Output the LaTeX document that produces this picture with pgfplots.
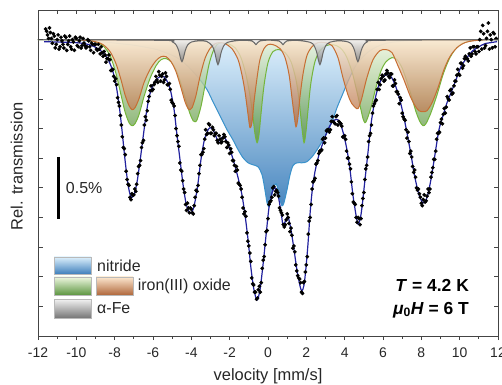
\documentclass[border=0pt]{standalone}
\usepackage{pgfplots}
\pgfplotsset{compat=1.18}
\usepackage{fontspec}
\setmainfont{Liberation Sans}
\usetikzlibrary{shadings}
\definecolor{nitL}{HTML}{DDF0FC}
\definecolor{nitD}{HTML}{3F80BC}
\definecolor{nitE}{HTML}{3A92CB}
\definecolor{orL}{HTML}{FCE7CF}
\definecolor{orD}{HTML}{B0673B}
\definecolor{orE}{HTML}{C66E33}
\definecolor{grL}{HTML}{EDF7DF}
\definecolor{grD}{HTML}{5C9540}
\definecolor{grE}{HTML}{74B53B}
\definecolor{gyL}{HTML}{F2F2F2}
\definecolor{gyD}{HTML}{767676}
\definecolor{gyE}{HTML}{686868}
\definecolor{fitc}{HTML}{22229E}
\definecolor{axc}{HTML}{444444}
\begin{document}
\begin{tikzpicture}
\begin{axis}[
  scale only axis, width=460bp, height=326bp,
  xmin=-12, xmax=12, ymin=-2.5, ymax=0.25,
  axis line style={draw=axc, line width=0.9bp},
  xtick={-12,-10,-8,-6,-4,-2,0,2,4,6,8,10,12},
  xticklabels={-12,-10,-8,-6,-4,-2,0,2,4,6,8,10,12},
  minor xtick={-11,-9,-7,-5,-3,-1,1,3,5,7,9,11},
  xtick pos=bottom, tick align=outside,
  major tick length=4bp, minor tick length=2.5bp,
  ytick=\empty,
  tick style={axc, line width=0.8bp},
  ticklabel style={font=\fontsize{14}{16}\selectfont, text=black!85},
  xticklabel style={yshift=-4bp},
  xlabel={velocity [mm/s]}, ylabel={Rel. transmission},
  xlabel style={yshift=-4bp, font=\fontsize{16.5}{19}\selectfont, text=black!85},
  ylabel style={at={(axis description cs:-0.046,0.52)}, anchor=center, font=\fontsize{16.5}{19}\selectfont, text=black!85},
  clip=true,
]
% nitride
\addplot[draw=nitE, line width=1bp, top color=nitL, bottom color=nitD, fill opacity=0.95, smooth] table {
-12 0
-10.33 -0.004
-8.76 -0.017
-7.72 -0.034
-7.04 -0.046
-6.42 -0.063
-5.79 -0.084
-5.27 -0.114
-4.75 -0.152
-4.33 -0.203
-3.91 -0.270
-3.55 -0.338
-3.18 -0.422
-2.92 -0.507
-2.66 -0.591
-2.40 -0.676
-2.14 -0.760
-1.83 -0.845
-1.56 -0.929
-1.30 -0.997
-1.04 -1.039
-0.78 -1.056
-0.52 -1.073
-0.31 -1.140
-0.16 -1.267
-0.05 -1.377
0.05 -1.410
0.16 -1.351
0.26 -1.258
0.42 -1.216
0.52 -1.267
0.63 -1.351
0.73 -1.402
0.83 -1.377
0.99 -1.267
1.15 -1.140
1.30 -1.064
1.51 -1.039
1.77 -1.039
2.03 -1.030
2.30 -0.988
2.56 -0.929
2.82 -0.861
3.08 -0.785
3.34 -0.693
3.60 -0.574
3.86 -0.473
4.12 -0.372
4.38 -0.279
4.64 -0.203
4.96 -0.144
5.32 -0.093
5.69 -0.059
6.10 -0.034
6.52 -0.021
7.41 -0.008
8.97 -0.004
12 0
} \closedcycle;
% green oxide
\addplot[draw=grE, line width=1bp, top color=grL, bottom color=grD, fill opacity=0.8, smooth] table {
-12 0
-9.81 -0.004
-9.02 -0.017
-8.61 -0.051
-8.24 -0.135
-7.93 -0.287
-7.67 -0.465
-7.46 -0.608
-7.25 -0.701
-7.09 -0.726
-6.94 -0.709
-6.73 -0.633
-6.47 -0.481
-6.16 -0.329
-5.84 -0.220
-5.58 -0.169
-5.32 -0.160
-5.06 -0.186
-4.80 -0.253
-4.54 -0.372
-4.28 -0.515
-4.07 -0.625
-3.91 -0.684
-3.81 -0.693
-3.70 -0.676
-3.50 -0.566
-3.29 -0.389
-3.08 -0.211
-2.87 -0.101
-2.66 -0.042
-2.40 -0.025
-2.09 -0.034
-1.72 -0.068
-1.41 -0.152
-1.15 -0.296
-0.94 -0.473
-0.78 -0.659
-0.68 -0.794
-0.57 -0.870
-0.47 -0.802
-0.37 -0.633
-0.21 -0.389
0.00 -0.194
0.26 -0.101
0.57 -0.084
0.89 -0.110
1.20 -0.186
1.46 -0.338
1.62 -0.507
1.77 -0.743
1.88 -0.870
1.98 -0.777
2.09 -0.591
2.24 -0.363
2.45 -0.186
2.71 -0.093
3.03 -0.051
3.39 -0.042
3.76 -0.068
4.07 -0.135
4.38 -0.270
4.64 -0.439
4.85 -0.591
4.96 -0.667
5.06 -0.701
5.16 -0.676
5.37 -0.574
5.63 -0.405
5.90 -0.262
6.16 -0.186
6.47 -0.152
6.73 -0.169
6.99 -0.236
7.25 -0.355
7.51 -0.490
7.72 -0.608
7.93 -0.693
8.09 -0.726
8.24 -0.709
8.50 -0.617
8.82 -0.465
9.13 -0.296
9.44 -0.169
9.76 -0.084
10.12 -0.034
10.64 -0.008
11.32 0
12 0
} \closedcycle;
% orange oxide
\addplot[draw=orE, line width=1bp, top color=orL, bottom color=orD, fill opacity=0.8, smooth] table {
-12 0
-9.81 -0.004
-9.02 -0.017
-8.61 -0.042
-8.24 -0.101
-7.93 -0.203
-7.67 -0.338
-7.46 -0.465
-7.25 -0.557
-7.09 -0.591
-6.94 -0.574
-6.73 -0.498
-6.47 -0.363
-6.16 -0.253
-5.84 -0.177
-5.58 -0.144
-5.32 -0.144
-5.06 -0.186
-4.80 -0.270
-4.54 -0.405
-4.33 -0.524
-4.17 -0.583
-4.07 -0.591
-3.96 -0.574
-3.76 -0.473
-3.55 -0.313
-3.29 -0.160
-3.03 -0.076
-2.76 -0.034
-2.50 -0.025
-2.24 -0.034
-1.88 -0.076
-1.56 -0.169
-1.36 -0.296
-1.20 -0.439
-1.04 -0.633
-0.94 -0.743
-0.83 -0.693
-0.73 -0.524
-0.57 -0.321
-0.42 -0.169
-0.21 -0.076
0.00 -0.042
0.26 -0.042
0.63 -0.076
0.89 -0.152
1.10 -0.296
1.25 -0.490
1.36 -0.633
1.46 -0.735
1.56 -0.659
1.67 -0.481
1.83 -0.287
2.03 -0.135
2.30 -0.059
2.61 -0.025
2.97 -0.025
3.34 -0.051
3.65 -0.152
3.91 -0.321
4.17 -0.465
4.38 -0.541
4.64 -0.583
4.75 -0.566
4.90 -0.490
5.16 -0.321
5.48 -0.169
5.84 -0.093
6.16 -0.084
6.47 -0.110
6.78 -0.220
7.09 -0.338
7.41 -0.473
7.67 -0.557
7.88 -0.600
8.09 -0.608
8.29 -0.600
8.56 -0.532
8.87 -0.405
9.18 -0.253
9.49 -0.144
9.86 -0.068
10.28 -0.025
10.80 -0.008
11.58 0
12 0
} \closedcycle;
% alpha-Fe
\addplot[draw=gyE, line width=1bp, top color=gyL, bottom color=gyD, fill opacity=0.85, smooth] table {
-12 0
-5.5 -0.006
-5.0 -0.018
-4.79 -0.045
-4.66 -0.093
-4.57 -0.153
-4.49 -0.186
-4.41 -0.153
-4.32 -0.093
-4.19 -0.045
-3.99 -0.020
-3.6 -0.010
-3.2 -0.015
-2.91 -0.052
-2.78 -0.106
-2.69 -0.173
-2.61 -0.211
-2.53 -0.173
-2.44 -0.106
-2.31 -0.052
-2.11 -0.023
-1.6 -0.008
-1.13 -0.006
-0.83 -0.012
-0.72 -0.025
-0.63 -0.042
-0.54 -0.025
-0.43 -0.012
0.0 -0.004
0.58 -0.012
0.69 -0.025
0.78 -0.042
0.87 -0.025
0.98 -0.012
1.5 -0.006
2.21 -0.023
2.41 -0.052
2.54 -0.106
2.63 -0.173
2.71 -0.211
2.79 -0.173
2.88 -0.106
3.01 -0.052
3.21 -0.023
3.7 -0.010
4.19 -0.020
4.39 -0.045
4.52 -0.093
4.61 -0.153
4.69 -0.186
4.77 -0.153
4.86 -0.093
4.99 -0.045
5.19 -0.018
5.7 -0.006
12 0
} \closedcycle;
% fit
\addplot[fitc, line width=1.2bp, smooth] table {
-11.68 -0.017
-10.85 -0.021
-10.07 -0.025
-9.55 -0.034
-9.18 -0.051
-8.87 -0.076
-8.61 -0.110
-8.40 -0.152
-8.24 -0.203
-8.09 -0.270
-7.93 -0.380
-7.77 -0.549
-7.62 -0.760
-7.46 -1.014
-7.30 -1.225
-7.15 -1.326
-6.99 -1.309
-6.83 -1.199
-6.68 -1.030
-6.52 -0.828
-6.36 -0.633
-6.21 -0.490
-6.05 -0.405
-5.84 -0.338
-5.63 -0.313
-5.43 -0.313
-5.22 -0.363
-5.06 -0.448
-4.90 -0.591
-4.75 -0.802
-4.59 -1.014
-4.43 -1.225
-4.28 -1.377
-4.12 -1.453
-3.96 -1.453
-3.81 -1.368
-3.65 -1.208
-3.50 -1.014
-3.34 -0.861
-3.18 -0.777
-3.03 -0.743
-2.87 -0.760
-2.71 -0.819
-2.61 -0.861
-2.50 -0.845
-2.35 -0.819
-2.19 -0.845
-1.98 -0.929
-1.77 -1.039
-1.56 -1.166
-1.36 -1.309
-1.20 -1.478
-1.04 -1.689
-0.89 -1.926
-0.73 -2.112
-0.57 -2.196
-0.42 -2.112
-0.26 -1.900
-0.10 -1.647
0.05 -1.419
0.21 -1.292
0.37 -1.250
0.52 -1.309
0.68 -1.453
0.78 -1.563
0.89 -1.537
1.04 -1.495
1.20 -1.605
1.36 -1.774
1.51 -1.943
1.67 -2.078
1.77 -2.120
1.88 -2.069
1.98 -1.926
2.09 -1.715
2.19 -1.478
2.30 -1.284
2.45 -1.115
2.66 -0.971
2.87 -0.870
3.08 -0.777
3.29 -0.709
3.50 -0.676
3.70 -0.684
3.91 -0.777
4.12 -0.929
4.28 -1.098
4.43 -1.309
4.59 -1.478
4.69 -1.554
4.80 -1.520
4.90 -1.419
5.06 -1.182
5.22 -0.946
5.37 -0.718
5.58 -0.507
5.79 -0.380
6.00 -0.313
6.21 -0.296
6.42 -0.313
6.63 -0.380
6.83 -0.481
7.04 -0.617
7.25 -0.785
7.46 -0.971
7.67 -1.166
7.88 -1.309
8.09 -1.377
8.29 -1.334
8.50 -1.182
8.71 -0.971
8.92 -0.760
9.13 -0.642
9.34 -0.532
9.55 -0.448
9.81 -0.338
10.07 -0.228
10.38 -0.152
10.69 -0.093
11.01 -0.059
11.32 -0.034
11.63 -0.025
11.95 -0.017
};
% measured data
\addplot[only marks, mark=*, mark size=1.7bp, black] table {
-11.6 0.09
-11.55 0.07
-11.5 0.04
-11.45 0.01
-11.4 0.10
-11.35 0.06
-11.3 0.01
-11.25 -0.03
-11.2 0.05
-11.15 0.03
-11.1 -0.07
-11.05 -0.04
-11.0 0.00
-10.95 0.04
-10.9 -0.08
-10.85 -0.06
-10.8 0.02
-10.75 -0.01
-10.7 -0.04
-10.65 -0.07
-10.6 0.03
-10.55 0.02
-10.5 -0.09
-10.45 -0.04
-10.4 -0.01
-10.35 0.03
-10.3 -0.06
-10.25 -0.08
-10.2 0.00
-10.15 -0.02
-10.1 -0.09
-10.05 0.02
-10.0 0.01
-9.95 -0.05
-9.9 -0.06
-9.85 -0.01
-9.8 0.02
-9.75 -0.07
-9.7 -0.05
-9.65 0.01
-9.6 -0.03
-9.55 -0.05
-9.5 -0.07
-9.45 -0.06
-9.4 0.00
-9.35 -0.01
-9.3 -0.06
-9.25 -0.09
-9.2 -0.03
-9.15 -0.04
-9.1 -0.11
-9.05 -0.04
-9.0 -0.04
-8.95 -0.08
-8.9 -0.09
-8.85 -0.04
-8.8 -0.08
-8.75 -0.12
-8.7 -0.06
-8.65 -0.11
-8.6 -0.14
-8.55 -0.10
-8.5 -0.13
-8.45 -0.19
-8.4 -0.16
-8.35 -0.16
-8.3 -0.13
-8.25 -0.17
-8.2 -0.26
-8.15 -0.26
-8.1 -0.25
-8.05 -0.31
-8.0 -0.35
-7.95 -0.33
-7.9 -0.38
-7.85 -0.49
-7.8 -0.53
-7.75 -0.56
-7.7 -0.64
-7.65 -0.72
-7.6 -0.82
-7.55 -0.91
-7.5 -0.92
-7.45 -0.97
-7.4 -1.11
-7.35 -1.18
-7.3 -1.22
-7.25 -1.23
-7.2 -1.33
-7.15 -1.35
-7.1 -1.30
-7.05 -1.31
-7.0 -1.31
-6.95 -1.26
-6.9 -1.28
-6.85 -1.22
-6.8 -1.13
-6.75 -1.07
-6.7 -1.06
-6.65 -1.02
-6.6 -0.91
-6.55 -0.87
-6.5 -0.85
-6.45 -0.72
-6.4 -0.65
-6.35 -0.68
-6.3 -0.60
-6.25 -0.52
-6.2 -0.48
-6.15 -0.43
-6.1 -0.39
-6.05 -0.43
-6.0 -0.42
-5.95 -0.38
-5.9 -0.36
-5.85 -0.31
-5.8 -0.34
-5.75 -0.36
-5.7 -0.27
-5.65 -0.30
-5.6 -0.35
-5.55 -0.31
-5.5 -0.29
-5.45 -0.36
-5.4 -0.34
-5.35 -0.28
-5.3 -0.31
-5.25 -0.38
-5.2 -0.38
-5.15 -0.37
-5.1 -0.42
-5.05 -0.51
-5.0 -0.53
-4.95 -0.54
-4.9 -0.56
-4.85 -0.64
-4.8 -0.75
-4.75 -0.81
-4.7 -0.86
-4.65 -0.90
-4.6 -1.04
-4.55 -1.10
-4.5 -1.11
-4.45 -1.19
-4.4 -1.26
-4.35 -1.29
-4.3 -1.39
-4.25 -1.44
-4.2 -1.38
-4.15 -1.42
-4.1 -1.46
-4.05 -1.42
-4.0 -1.43
-3.95 -1.46
-3.9 -1.47
-3.85 -1.40
-3.8 -1.33
-3.75 -1.27
-3.7 -1.28
-3.65 -1.23
-3.6 -1.13
-3.55 -1.06
-3.5 -0.97
-3.45 -0.97
-3.4 -0.95
-3.35 -0.92
-3.3 -0.84
-3.25 -0.76
-3.2 -0.80
-3.15 -0.79
-3.1 -0.71
-3.05 -0.72
-3.0 -0.79
-2.95 -0.79
-2.9 -0.74
-2.85 -0.76
-2.8 -0.81
-2.75 -0.79
-2.7 -0.79
-2.65 -0.85
-2.6 -0.87
-2.55 -0.81
-2.5 -0.84
-2.45 -0.87
-2.4 -0.86
-2.35 -0.83
-2.3 -0.80
-2.25 -0.82
-2.2 -0.86
-2.15 -0.91
-2.1 -0.87
-2.05 -0.89
-2.0 -0.96
-1.95 -0.92
-1.9 -0.95
-1.85 -1.02
-1.8 -1.02
-1.75 -1.06
-1.7 -1.11
-1.65 -1.07
-1.6 -1.10
-1.55 -1.21
-1.5 -1.22
-1.45 -1.23
-1.4 -1.26
-1.35 -1.33
-1.3 -1.42
-1.25 -1.47
-1.2 -1.45
-1.15 -1.49
-1.1 -1.63
-1.05 -1.70
-1.0 -1.74
-0.95 -1.80
-0.9 -1.87
-0.85 -2.01
-0.8 -2.06
-0.75 -2.07
-0.7 -2.13
-0.65 -2.13
-0.6 -2.19
-0.55 -2.18
-0.5 -2.11
-0.45 -2.08
-0.4 -2.13
-0.35 -2.05
-0.3 -1.93
-0.25 -1.86
-0.2 -1.83
-0.15 -1.73
-0.1 -1.62
-0.05 -1.61
0.0 -1.51
0.05 -1.39
0.1 -1.37
0.15 -1.36
0.2 -1.33
0.25 -1.25
0.3 -1.24
0.35 -1.31
0.4 -1.28
0.45 -1.27
0.5 -1.29
0.55 -1.32
0.6 -1.42
0.65 -1.44
0.7 -1.46
0.75 -1.48
0.8 -1.56
0.85 -1.58
0.9 -1.56
0.95 -1.52
1.0 -1.47
1.05 -1.50
1.1 -1.55
1.15 -1.62
1.2 -1.59
1.25 -1.65
1.3 -1.76
1.35 -1.74
1.4 -1.79
1.45 -1.90
1.5 -1.95
1.55 -1.99
1.6 -2.01
1.65 -2.02
1.7 -2.05
1.75 -2.13
1.8 -2.14
1.85 -2.05
1.9 -2.04
1.95 -1.96
2.0 -1.90
2.05 -1.83
2.1 -1.64
2.15 -1.53
2.2 -1.50
2.25 -1.39
2.3 -1.26
2.35 -1.20
2.4 -1.19
2.45 -1.17
2.5 -1.05
2.55 -1.04
2.6 -1.02
2.65 -0.96
2.7 -0.94
2.75 -0.94
2.8 -0.93
2.85 -0.84
2.9 -0.83
2.95 -0.87
3.0 -0.83
3.05 -0.77
3.1 -0.76
3.15 -0.76
3.2 -0.78
3.25 -0.76
3.3 -0.69
3.35 -0.65
3.4 -0.69
3.45 -0.70
3.5 -0.71
3.55 -0.65
3.6 -0.64
3.65 -0.72
3.7 -0.69
3.75 -0.70
3.8 -0.71
3.85 -0.73
3.9 -0.82
3.95 -0.82
4.0 -0.81
4.05 -0.84
4.1 -0.94
4.15 -1.00
4.2 -1.00
4.25 -1.05
4.3 -1.09
4.35 -1.20
4.4 -1.30
4.45 -1.37
4.5 -1.38
4.55 -1.39
4.6 -1.50
4.65 -1.54
4.7 -1.50
4.75 -1.51
4.8 -1.56
4.85 -1.51
4.9 -1.40
4.95 -1.34
5.0 -1.29
5.05 -1.18
5.1 -1.09
5.15 -1.06
5.2 -0.99
5.25 -0.86
5.3 -0.81
5.35 -0.79
5.4 -0.72
5.45 -0.62
5.5 -0.56
5.55 -0.54
5.6 -0.52
5.65 -0.51
5.7 -0.42
5.75 -0.36
5.8 -0.42
5.85 -0.38
5.9 -0.33
5.95 -0.30
6.0 -0.31
6.05 -0.35
6.1 -0.34
6.15 -0.29
6.2 -0.26
6.25 -0.28
6.3 -0.31
6.35 -0.32
6.4 -0.29
6.45 -0.29
6.5 -0.39
6.55 -0.39
6.6 -0.34
6.65 -0.37
6.7 -0.44
6.75 -0.44
6.8 -0.46
6.85 -0.54
6.9 -0.49
6.95 -0.51
7.0 -0.62
7.05 -0.65
7.1 -0.67
7.15 -0.68
7.2 -0.76
7.25 -0.83
7.3 -0.78
7.35 -0.86
7.4 -0.96
7.45 -0.94
7.5 -0.99
7.55 -1.07
7.6 -1.12
7.65 -1.10
7.7 -1.16
7.75 -1.25
7.8 -1.27
7.85 -1.26
7.9 -1.30
7.95 -1.33
8.0 -1.38
8.05 -1.40
8.1 -1.35
8.15 -1.31
8.2 -1.37
8.25 -1.36
8.3 -1.32
8.35 -1.26
8.4 -1.29
8.45 -1.26
8.5 -1.16
8.55 -1.12
8.6 -1.08
8.65 -1.01
8.7 -1.01
8.75 -0.94
8.8 -0.84
8.85 -0.79
8.9 -0.79
8.95 -0.78
9.0 -0.70
9.05 -0.67
9.1 -0.71
9.15 -0.63
9.2 -0.58
9.25 -0.62
9.3 -0.57
9.35 -0.48
9.4 -0.50
9.45 -0.51
9.5 -0.43
9.55 -0.42
9.6 -0.46
9.65 -0.45
9.7 -0.39
9.75 -0.35
9.8 -0.35
9.85 -0.30
9.9 -0.25
9.95 -0.29
10.0 -0.30
10.05 -0.20
10.1 -0.20
10.15 -0.24
10.2 -0.22
10.25 -0.16
10.3 -0.14
10.35 -0.16
10.4 -0.16
10.45 -0.18
10.5 -0.12
10.55 -0.07
10.6 -0.14
10.65 -0.12
10.7 -0.06
10.75 -0.06
10.8 -0.10
10.85 -0.12
10.9 -0.06
10.95 -0.06
11.0 -0.10
11.05 0.00
11.1 0.07
11.15 -0.08
11.2 0.12
11.25 0.05
11.3 -0.07
11.35 -0.05
11.4 0.01
11.45 0.07
11.5 0.14
11.55 -0.08
11.6 0.04
11.65 0.00
11.7 -0.07
11.75 0.06
11.8 0.05
11.85 -0.06
11.9 0.01
};
% scale bar
\draw[line width=3bp, black] (axis cs:-10.95,-0.99) -- (axis cs:-10.95,-1.51);
\node[anchor=west, inner sep=0pt, font=\fontsize{16}{18}\selectfont, text=black!85] at (axis cs:-10.55,-1.25) {0.5\%};
% legend
\shade[top color=nitL, bottom color=nitD, draw=gray!55, line width=0.6bp] (axis cs:-11.16,-1.833) rectangle (axis cs:-9.23,-1.976);
\shade[top color=grL, bottom color=grD, draw=gray!55, line width=0.6bp] (axis cs:-11.16,-2.002) rectangle (axis cs:-9.23,-2.154);
\shade[top color=orL, bottom color=orD, draw=gray!55, line width=0.6bp] (axis cs:-8.97,-2.002) rectangle (axis cs:-7.04,-2.154);
\shade[top color=gyL, bottom color=gyD, draw=gray!55, line width=0.6bp] (axis cs:-11.16,-2.188) rectangle (axis cs:-9.23,-2.348);
\node[anchor=west, inner sep=0pt, font=\fontsize{16}{18}\selectfont, text=black!85] at (axis cs:-8.92,-1.905) {nitride};
\node[anchor=west, inner sep=0pt, font=\fontsize{16}{18}\selectfont, text=black!85] at (axis cs:-6.80,-2.078) {iron(III) oxide};
\node[anchor=west, inner sep=0pt, font=\fontsize{16}{18}\selectfont, text=black!85] at (axis cs:-8.92,-2.268) {α-Fe};
% conditions
\node[anchor=east, inner sep=0pt, font=\bfseries\fontsize{17.5}{20}\selectfont] at (axis cs:10.49,-2.07) {\textit{T} = 4.2 K};
\node[anchor=east, inner sep=0pt, font=\bfseries\fontsize{17.5}{20}\selectfont] at (axis cs:10.49,-2.28) {\textit{μ}\textsubscript{0}\textit{H} = 6 T};
\end{axis}
\begin{axis}[
  scale only axis, width=460bp, height=326bp,
  xmin=-12, xmax=12, ymin=-2.5, ymax=0.25,
  axis line style={draw=none},
  xtick={-11,-10,...,11}, xticklabels={},
  xtick pos=top,
  ytick={-2.25,-2,-1.75,-1.5,-1.25,-1,-0.75,-0.5,-0.25,0},
  yticklabels={}, ytick pos=both,
  tick align=inside, major tick length=4.5bp,
  tick style={axc, line width=0.8bp},
]
\end{axis}
\pgfresetboundingbox
\path ([shift={(-38bp,-49bp)}]current axis.south west) rectangle ([shift={(4bp,10bp)}]current axis.north east);
\end{tikzpicture}
\end{document}
